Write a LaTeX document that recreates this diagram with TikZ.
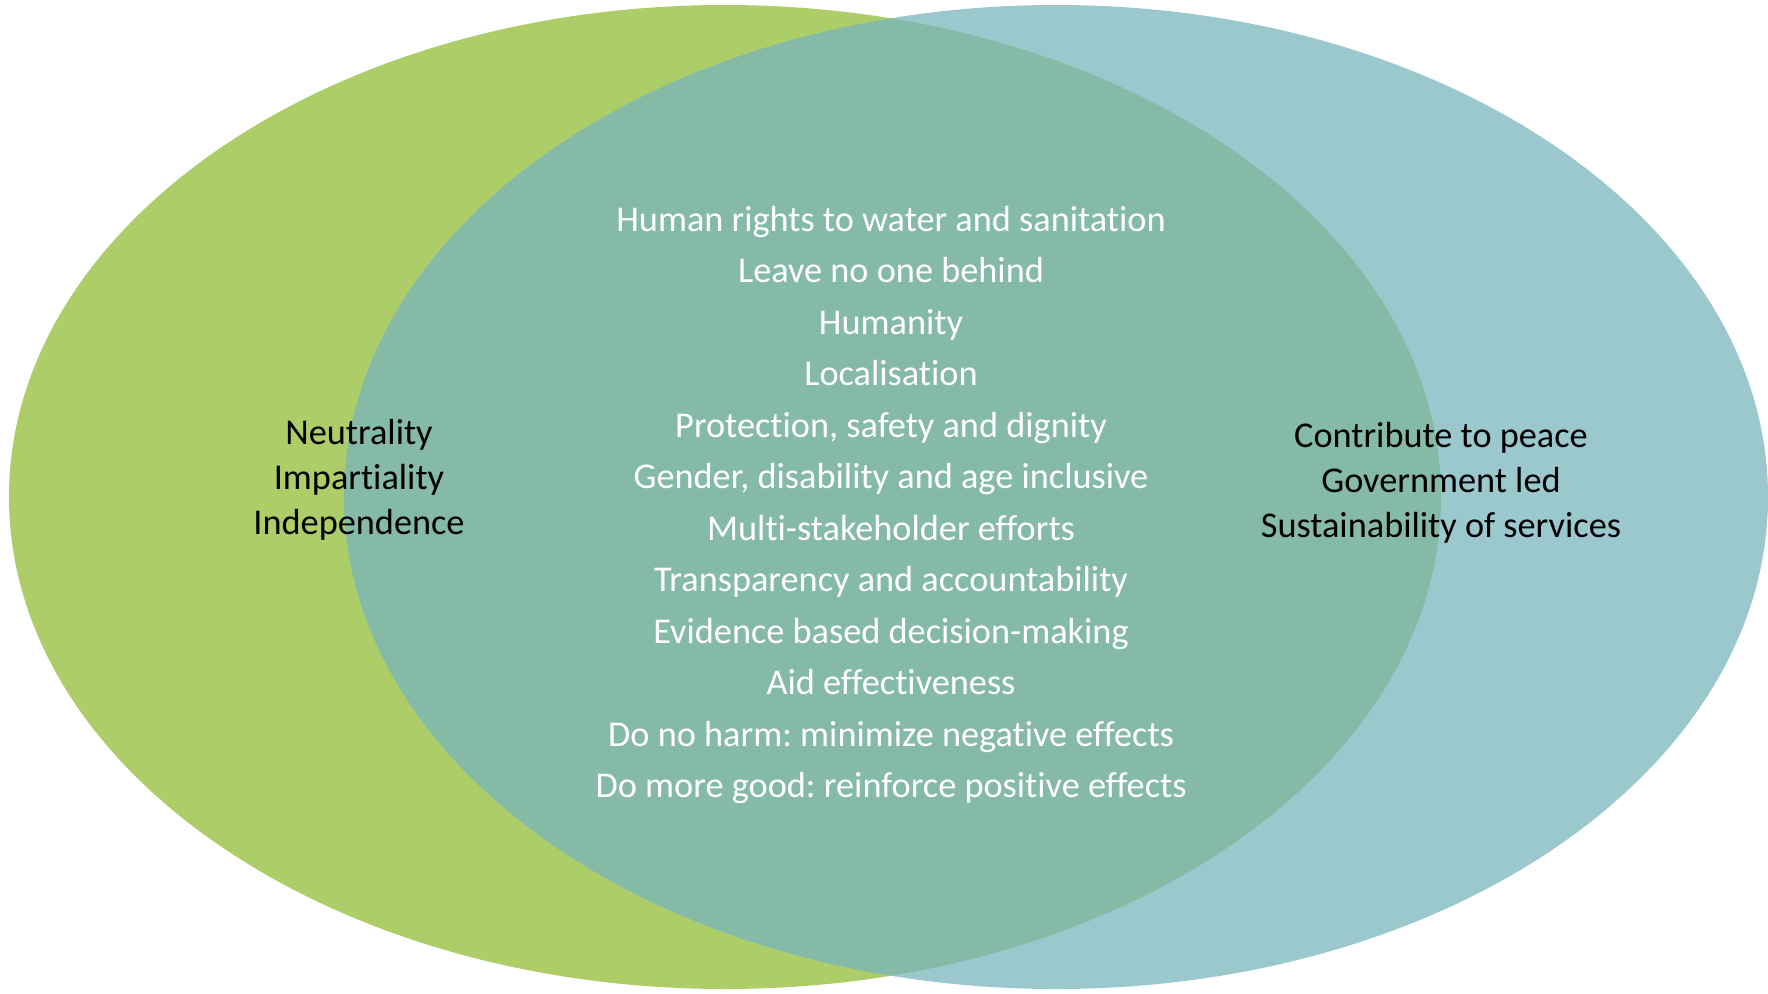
\documentclass[tikz,border=0pt]{standalone}
\usepackage{fontspec}
\setmainfont{Carlito}[Ligatures=NoCommon]
\frenchspacing
\definecolor{lgreen}{HTML}{ACCD67}
\definecolor{lblue}{HTML}{9AC8CD}
\definecolor{lover}{HTML}{85BAA6}
\begin{document}
\begin{tikzpicture}[x=1pt,y=-1pt,
  txt/.style={inner sep=0pt,align=center,font=\fontsize{36.3}{45}\selectfont\frenchspacing},
  ctxt/.style={inner sep=0pt,align=center,text=white,font=\fontsize{36.3}{51.5}\selectfont\frenchspacing}]
\useasboundingbox (0,0) rectangle (1768,993);
\fill[lgreen] (725,497) ellipse [x radius=716, y radius=492];
\fill[lblue] (1056,497) ellipse [x radius=712, y radius=492];
\begin{scope}
\clip (725,497) ellipse [x radius=716, y radius=492];
\fill[lover] (1056,497) ellipse [x radius=712, y radius=492];
\end{scope}
\node[txt] (ltext) at (359,480) {Neutrality\\Impartiality\\Independence};
\node[txt] (rtext) at (1441,483) {Contribute to peace\\Government led\\Sustainability of services};
\node[ctxt] (ctext) at (891,505) {Human rights to water and sanitation\\Leave no one behind\\Humanity\\Localisation\\Protection, safety and dignity\\Gender, disability and age inclusive\\Multi-stakeholder efforts\\Transparency and accountability\\Evidence based decision-making\\Aid effectiveness\\Do no harm: minimize negative effects\\Do more good: reinforce positive effects};
\end{tikzpicture}
\end{document}
